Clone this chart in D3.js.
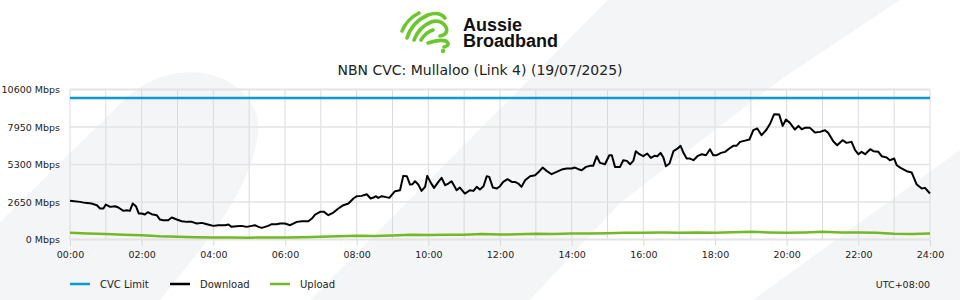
<!DOCTYPE html>
<html><head><meta charset="utf-8">
<script src="https://cdn.jsdelivr.net/npm/d3@7"></script>
<style>
html,body{margin:0;padding:0;background:#fff;}
svg{display:block;font-family:"DejaVu Sans",sans-serif;}
</style>
</head><body>
<svg id="chart" width="960" height="300"></svg>
<script>
const chartTitle = "NBN CVC: Mullaloo (Link 4) (19/07/2025)";
const brandLines = ["Aussie", "Broadband"];
const seriesNames = ["CVC Limit", "Download", "Upload"];
const seriesColors = ["#0d98d6", "#000000", "#74b826"];
const yTickValues = [0, 2650, 5300, 7950, 10600];
const xTickHours = [0, 2, 4, 6, 8, 10, 12, 14, 16, 18, 20, 22, 24];
const timezoneLabel = "UTC+08:00";
const cvcLimitMbps = 10000;

const downloadHours = [0,0.28,0.42,0.6,0.75,0.84,0.93,1.0,1.12,1.26,1.35,1.49,1.58,1.67,1.75,1.84,1.92,2.0,2.09,2.17,2.28,2.42,2.51,2.6,2.74,2.84,2.98,3.12,3.26,3.4,3.54,3.68,3.82,4.0,4.14,4.33,4.42,4.51,4.65,4.79,4.93,5.07,5.16,5.26,5.35,5.44,5.53,5.63,5.77,5.86,6.0,6.14,6.23,6.33,6.47,6.65,6.75,6.84,6.98,7.09,7.21,7.35,7.49,7.63,7.77,7.91,
8.0,8.14,8.28,8.39,8.47,8.54,8.6,8.7,8.79,8.91,9.07,9.21,9.3,9.4,9.49,9.56,9.63,9.72,9.81,9.91,9.97,10.07,10.16,10.28,10.37,10.47,10.56,10.65,10.79,10.88,11.02,11.16,11.26,11.35,11.44,11.54,11.63,11.7,11.8,11.91,12.0,12.09,12.21,12.33,12.42,12.51,12.6,12.7,12.84,12.98,13.1,13.19,13.3,13.44,13.58,13.72,13.86,14.0,14.09,14.19,14.28,14.4,14.51,14.6,14.7,14.79,14.93,15.05,15.12,15.21,15.35,15.44,15.54,15.63,15.72,15.79,15.89,
16.0,16.11,16.21,16.31,16.39,16.48,16.56,16.63,16.73,16.84,16.93,17.04,17.12,17.21,17.3,17.4,17.51,17.63,17.75,17.86,17.95,18.05,18.17,18.28,18.4,18.51,18.6,18.7,18.81,18.96,19.07,19.18,19.3,19.44,19.54,19.65,19.79,19.89,19.98,20.09,20.23,20.33,20.42,20.51,20.65,20.79,20.93,21.07,21.16,21.3,21.41,21.56,21.67,21.81,21.91,22.0,22.09,22.19,22.33,22.42,22.56,22.65,22.79,22.88,23.0,23.07,23.18,23.35,23.49,23.63,23.77,23.86,24.0];
const downloadMbps = [2730,2659,2589,2542,2424,2188,2188,2471,2306,2353,2259,2023,2071,2023,2542,2353,1835,1835,1764,1929,1788,1717,1411,1364,1364,1553,1411,1293,1246,1246,1128,1175,1081,963,1011,1011,1058,893,940,963,893,963,1011,893,822,893,963,1081,1081,1128,1128,1011,1128,1246,1293,1293,1482,1764,1953,1953,1717,1906,2188,2424,2542,2895,
3059,3083,3200,2895,2965,3059,2942,3059,3012,2942,3412,3483,4496,4473,3884,3907,4119,3884,3436,3719,4496,4001,3648,4072,4355,3836,3954,4119,3483,3672,3247,3483,3436,3719,3533,3766,4473,4426,3672,3601,3766,4072,4260,4072,4072,3954,3719,4190,4473,4543,4826,5085,4850,4614,4779,4944,5015,5015,5085,4968,4897,5132,5203,5203,5887,5415,5320,5957,5957,5132,5132,5603,5556,5320,5556,6240,6028,
5887,6075,5768,5910,5887,6122,5792,5179,5368,6240,6381,6617,6122,5721,5721,5603,5887,6028,5957,6381,5957,5957,6122,6193,6428,6617,6617,6900,6970,7064,7724,7841,7370,7771,8195,8855,8831,8030,8478,8242,7771,8030,7794,7889,7889,7559,7606,7724,7535,6946,6664,7017,6829,6900,6311,6028,6193,6028,6381,6240,6193,5887,5792,5603,5721,5250,5061,4826,4732,3884,3601,3648,3251];

const uploadHours = [0,0.5,1,1.5,2,2.5,3,3.5,4,4.5,5,5.5,6,6.5,7,7.5,8,8.5,9,9.5,10,10.5,11,11.5,12,12.5,13,13.5,14,14.5,15,15.5,16,16.5,17,17.5,18,18.5,19,19.5,20,20.5,21,21.5,22,22.5,23,23.5,24];
const uploadMbps = [470,420,380,330,300,230,190,160,140,140,130,150,150,160,190,230,260,250,290,330,320,330,340,380,350,370,400,390,420,420,450,470,480,490,480,500,470,520,540,500,480,500,540,500,500,470,400,380,420];

const svg = d3.select("#chart");
const bgColor = "#f4f5f7";

// decorative watermark shapes
const bg = svg.append("g");
bg.append("path").attr("fill", bgColor)
  .attr("d", "M0,222 L122,102 C160,62 230,60 255,110 C268,140 240,200 200,250 L160,300 L0,300 Z");
bg.append("path").attr("fill", bgColor)
  .attr("d", "M608,0 L900,0 L780,80 L620,203 L530,300 L310,300 Z");
bg.append("path").attr("fill", bgColor)
  .attr("d", "M960,150 L753,300 L960,300 Z");

// logo
const logo = svg.append("g").attr("fill", "none").attr("stroke", "#6cc72e")
  .attr("stroke-width", 3.6).attr("stroke-linecap", "round");
[
  "M402,31 Q407,19 419,13",
  "M407,38 Q412,22 428,15 Q439,11 445,18",
  "M414,40 Q419,27 431,22 Q441,19 446,27 Q449,34 440,36",
  "M421,40 Q426,32 433,30",
  "M428,43 Q439,39 446,41 Q451,45 444,47"
].forEach(d => logo.append("path").attr("d", d));
svg.append("circle").attr("cx", 443).attr("cy", 51).attr("r", 2.2).attr("fill", "#6cc72e");
const brand = svg.append("text")
  .attr("font-family", "'Liberation Sans', Arial, sans-serif").attr("font-weight", "bold")
  .attr("font-size", 18).attr("fill", "#111");
brand.append("tspan").attr("x", 463).attr("y", 31).text(brandLines[0]);
brand.append("tspan").attr("x", 463).attr("y", 47).text(brandLines[1]);

// title
svg.append("text").attr("x", 480).attr("y", 75).attr("text-anchor", "middle")
  .attr("font-size", 14).attr("fill", "#222").text(chartTitle);

const x = d3.scaleLinear().domain([0, 24]).range([70, 930]);
const y = d3.scaleLinear().domain([0, 10600]).range([239.5, 89.5]);

// grid
const grid = svg.append("g");
grid.selectAll(".vg").data(d3.range(0, 25)).join("line")
  .attr("x1", d => x(d)).attr("x2", d => x(d))
  .attr("y1", y(10600)).attr("y2", y(0))
  .attr("stroke", "#dadada").attr("stroke-width", 1);
grid.selectAll(".hg").data(yTickValues).join("line")
  .attr("x1", x(0)).attr("x2", x(24))
  .attr("y1", d => y(d)).attr("y2", d => y(d))
  .attr("stroke", "#e3e3e3").attr("stroke-width", d => (d === 0 || d === 10600) ? 2 : 1.5);

// axes
const yAxis = d3.axisLeft(y).tickValues(yTickValues).tickSize(0).tickPadding(10)
  .tickFormat(d => d + " Mbps");
const gy = svg.append("g").attr("transform", "translate(70,0)").call(yAxis);
gy.select(".domain").remove();
gy.selectAll("text").attr("font-size", 9.5).attr("fill", "#222").attr("font-family", "DejaVu Sans");

const xAxis = d3.axisBottom(x).tickValues(xTickHours).tickSize(6).tickPadding(5)
  .tickFormat(d => String(d).padStart(2, "0") + ":00");
const gx = svg.append("g").attr("transform", "translate(0,240)").call(xAxis);
gx.select(".domain").remove();
gx.selectAll("line").attr("stroke", "#dadada");
gx.selectAll("text").attr("font-size", 9.5).attr("fill", "#222").attr("font-family", "DejaVu Sans");

// series
svg.append("line").attr("x1", x(0)).attr("x2", x(24))
  .attr("y1", y(cvcLimitMbps)).attr("y2", y(cvcLimitMbps))
  .attr("stroke", seriesColors[0]).attr("stroke-width", 2.5);

const line = d3.line().x(d => x(d[0])).y(d => y(d[1]));
svg.append("path").datum(uploadHours.map((h, i) => [h, uploadMbps[i]]))
  .attr("d", line).attr("fill", "none").attr("stroke", seriesColors[2])
  .attr("stroke-width", 2.5).attr("stroke-linejoin", "round");
svg.append("path").datum(downloadHours.map((h, i) => [h, downloadMbps[i]]))
  .attr("d", line).attr("fill", "none").attr("stroke", seriesColors[1])
  .attr("stroke-width", 2).attr("stroke-linejoin", "round");

// legend
const lg = svg.append("g").selectAll("g").data(seriesNames).join("g")
  .attr("transform", (d, i) => `translate(${70 + i * 100},284)`);
lg.append("line").attr("x1", 0).attr("x2", 20).attr("y1", 0).attr("y2", 0)
  .attr("stroke", (d, i) => seriesColors[i]).attr("stroke-width", 2.5);
lg.append("text").attr("x", 30).attr("y", 3.5).attr("font-size", 10).attr("fill", "#222").text(d => d);

svg.append("text").attr("x", 930).attr("y", 287.5).attr("text-anchor", "end")
  .attr("font-size", 9.5).attr("fill", "#222").text(timezoneLabel);
</script>
</body></html>
